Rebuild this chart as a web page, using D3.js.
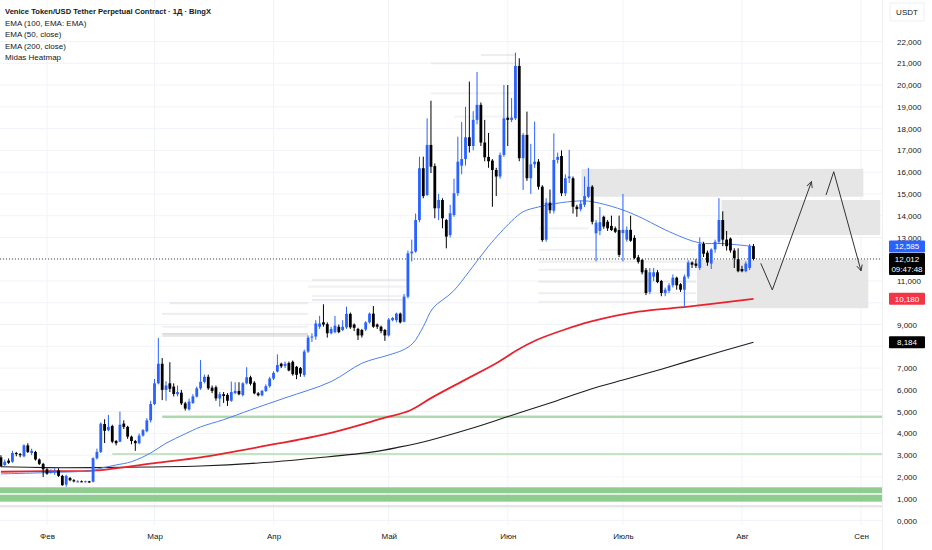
<!DOCTYPE html>
<html>
<head>
<meta charset="utf-8">
<script src="https://cdn.jsdelivr.net/npm/d3@7"></script>
<style>
  body { margin: 0; background: #fff; }
  svg { display: block; font-family: "Liberation Sans", Arial, sans-serif; }
</style>
</head>
<body>
<div id="chart"></div>
<script>
// daily candles starting at this date
const firstDay = "2025-01-20";

const opens = [
  2.9, 2.55, 2.75, 2.7, 3.1, 3.05, 2.95, 3.45, 3.1, 3.15,
  2.8, 2.6, 2.35, 2.2, 2.22, 2.3, 2.05, 1.65, 1.95, 1.85,
  1.78, 1.8, 1.78, 1.8, 1.78, 2.86, 3.15, 4.43, 4.15, 4.34,
  3.65, 3.62, 4.45, 4.3, 3.85, 3.65, 3.55, 3.9, 4.1, 4.6,
  5.35, 6.3, 7.2, 6.0, 6.3, 6.15, 5.8, 5.87, 5.38, 5.1,
  5.4, 5.69, 6.07, 6.37, 6.6, 6.1, 6.12, 5.6, 5.8, 5.77,
  5.5, 5.85, 5.95, 5.76, 6.3, 6.58, 6.33, 5.84, 5.75, 5.95,
  6.17, 6.52, 6.84, 7.2, 7.1, 7.23, 7.29, 7.06, 7.0, 6.68,
  7.76, 8.4, 8.45, 8.9, 9.1, 9.02, 8.6, 8.65, 8.9, 8.75,
  8.87, 9.49, 9.0, 8.8, 8.75, 8.77, 9.1, 9.5, 9.0, 8.9,
  8.75, 8.5, 9.2, 9.2, 9.5, 9.13, 10.28, 12.27, 12.35, 13.8,
  16.18, 14.95, 17.25, 16.28, 14.34, 14.72, 13.8, 13.11, 14.03, 15.03,
  16.3, 16.6, 17.6, 17.2, 18.4, 19.09, 17.36, 16.7, 16.53, 16.1,
  15.8, 16.79, 18.5, 18.4, 18.47, 20.88, 16.64, 17.71, 15.72, 16.36,
  16.48, 15.33, 12.9, 14.6, 14.23, 16.56, 16.74, 15.03, 15.72, 15.72,
  14.41, 14.3, 14.5, 14.87, 15.33, 13.19, 13.3, 13.95, 13.72, 13.53,
  13.42, 13.34, 13.2, 12.9, 13.35, 12.98, 12.09, 11.97, 11.5, 10.5,
  11.2, 11.4, 11.0, 10.45, 10.55, 10.8, 11.15, 10.85, 10.6, 11.2,
  11.85, 11.8, 11.6, 12.7, 12.3, 11.8, 12.45, 12.8, 13.8, 12.9,
  12.95, 12.4, 12.0, 11.55, 11.45, 11.6, 12.6
];
const highs = [
  3.0, 2.8, 2.85, 3.2, 3.15, 3.1, 3.5, 3.55, 3.3, 3.2,
  2.85, 2.65, 2.4, 2.35, 2.4, 2.4, 2.1, 2.1, 2.0, 1.9,
  1.85, 1.84, 1.83, 1.82, 2.9, 3.3, 4.5, 4.65, 4.85, 4.4,
  3.7, 5.0, 4.6, 4.35, 3.9, 3.7, 4.0, 4.2, 4.7, 5.5,
  6.5, 8.38, 7.46, 6.4, 7.27, 6.3, 6.2, 6.0, 5.45, 5.6,
  5.8, 6.15, 7.37, 6.7, 6.7, 6.2, 6.2, 5.9, 5.9, 5.85,
  6.38, 6.35, 6.35, 6.35, 7.04, 6.65, 6.4, 5.9, 6.0, 6.25,
  6.6, 6.85, 7.63, 7.25, 7.3, 7.3, 7.35, 7.1, 7.05, 7.85,
  8.5, 8.6, 9.2, 9.4, 9.93, 9.1, 8.9, 9.39, 9.0, 9.2,
  9.82, 9.55, 9.05, 8.85, 8.8, 9.15, 9.55, 9.85, 9.05, 8.95,
  8.8, 9.3, 9.35, 9.55, 9.55, 10.4, 12.4, 12.9, 14.1, 16.71,
  16.71, 18.47, 19.28, 16.4, 15.0, 14.8, 13.85, 14.5, 15.7, 17.63,
  18.3, 19.0, 20.16, 18.8, 20.6, 19.2, 18.4, 17.8, 16.6, 16.2,
  16.9, 20.0, 20.0, 19.4, 21.49, 21.23, 17.8, 18.78, 17.3, 18.32,
  16.6, 15.4, 14.8, 15.2, 17.78, 16.9, 17.0, 15.9, 17.02, 15.8,
  14.5, 14.7, 15.8, 16.2, 15.4, 13.8, 14.4, 14.0, 13.8, 14.0,
  13.5, 14.0, 15.0, 13.5, 14.0, 13.1, 12.2, 12.0, 11.6, 11.6,
  11.6, 11.5, 11.05, 10.7, 10.9, 11.3, 11.2, 10.9, 11.3, 11.95,
  11.9, 12.0, 13.0, 12.8, 12.4, 12.5, 12.9, 14.8, 14.2, 13.3,
  13.0, 12.5, 12.5, 11.7, 11.9, 12.7, 12.7
];
const lows = [
  2.45, 2.5, 2.6, 2.65, 2.95, 2.9, 2.9, 3.1, 3.0, 2.75,
  2.55, 2.0, 2.1, 2.15, 2.1, 2.0, 1.6, 1.55, 1.8, 1.75,
  1.75, 1.76, 1.75, 1.72, 1.75, 2.8, 3.1, 3.56, 4.1, 3.55,
  3.45, 3.6, 4.2, 3.75, 3.5, 3.2, 3.5, 3.85, 4.05, 4.5,
  5.3, 6.25, 5.53, 5.5, 5.9, 5.7, 5.7, 5.3, 5.05, 5.05,
  5.35, 5.65, 6.0, 6.3, 6.0, 5.85, 5.5, 5.23, 5.4, 5.26,
  5.45, 5.8, 5.75, 5.7, 6.25, 6.2, 5.8, 5.7, 5.7, 5.9,
  6.1, 6.45, 6.8, 7.0, 7.0, 6.85, 6.65, 6.49, 6.6, 6.6,
  7.7, 8.2, 8.3, 8.8, 8.9, 8.4, 8.55, 8.6, 8.6, 8.7,
  8.8, 8.8, 8.7, 8.29, 8.4, 8.7, 9.05, 8.85, 8.8, 8.6,
  8.25, 8.45, 9.15, 9.1, 9.05, 9.1, 10.2, 11.9, 12.3, 13.7,
  14.8, 14.9, 15.96, 13.88, 13.8, 13.42, 12.5, 13.0, 13.95, 14.9,
  15.9, 16.3, 16.9, 17.0, 18.2, 17.2, 16.5, 16.2, 14.41, 14.9,
  15.7, 16.7, 17.2, 18.3, 18.4, 16.5, 15.18, 15.6, 15.0, 16.2,
  15.2, 12.8, 12.8, 14.1, 14.1, 16.4, 14.9, 14.9, 15.5, 14.1,
  13.95, 14.2, 14.4, 14.8, 13.6, 11.9, 13.1, 13.4, 13.3, 13.3,
  13.2, 12.1, 11.9, 12.8, 12.8, 12.0, 11.8, 11.3, 10.35, 10.4,
  11.0, 10.9, 10.3, 10.3, 10.45, 10.7, 10.6, 10.5, 9.82, 11.1,
  11.6, 11.6, 11.5, 12.1, 11.7, 11.55, 12.3, 12.7, 12.6, 12.4,
  12.3, 11.6, 11.4, 11.4, 11.4, 11.5, 11.95
];
const closes = [
  2.5, 2.7, 2.65, 3.1, 3.05, 3.0, 3.45, 3.15, 3.2, 2.8,
  2.6, 2.35, 2.15, 2.25, 2.27, 2.05, 1.62, 2.05, 1.85, 1.8,
  1.8, 1.78, 1.8, 1.75, 2.86, 3.15, 4.45, 4.12, 4.3, 3.62,
  3.55, 4.4, 4.3, 3.85, 3.65, 3.55, 3.9, 4.15, 4.6, 5.35,
  6.3, 7.2, 6.0, 6.2, 6.05, 5.81, 5.9, 5.38, 5.14, 5.46,
  5.7, 6.07, 6.37, 6.6, 6.07, 5.95, 5.61, 5.8, 5.72, 5.5,
  5.9, 5.95, 5.8, 6.3, 6.58, 6.28, 5.84, 5.75, 5.95, 6.17,
  6.52, 6.78, 7.14, 7.08, 7.2, 6.89, 6.72, 6.69, 6.75, 7.76,
  8.4, 8.45, 9.05, 9.05, 9.0, 8.6, 8.8, 8.95, 8.65, 8.9,
  9.49, 8.87, 8.85, 8.5, 8.5, 9.1, 9.5, 8.9, 8.9, 8.7,
  8.5, 9.23, 9.3, 9.5, 9.1, 10.28, 12.27, 12.35, 13.8, 16.18,
  14.9, 17.25, 16.25, 14.34, 14.72, 13.88, 13.04, 14.11, 15.03, 16.48,
  16.6, 17.6, 17.2, 18.4, 19.09, 17.36, 16.68, 16.5, 16.1, 15.8,
  16.79, 18.47, 18.4, 18.5, 20.88, 16.64, 17.71, 15.72, 16.36, 16.48,
  15.33, 12.88, 14.6, 14.25, 16.56, 16.7, 15.03, 15.72, 15.8, 14.41,
  14.3, 14.55, 14.9, 15.33, 13.72, 13.68, 13.7, 13.5, 13.42, 13.34,
  13.26, 12.2, 13.35, 13.35, 12.85, 12.06, 11.88, 11.4, 10.45, 11.4,
  11.4, 10.95, 10.45, 10.6, 10.8, 11.15, 10.8, 10.6, 11.2, 11.85,
  11.75, 11.7, 12.7, 12.25, 11.85, 12.45, 12.8, 13.8, 12.9, 12.6,
  12.4, 12.05, 11.45, 11.45, 11.8, 12.6, 12.012
];

// EMA lines: [candle index, value]
const ema50 = [[0,2.14],[12,2.2],[24,2.3],[26,2.4],[30,2.55],[34,2.7],[39,3.1],[43,3.55],[48,3.98],
  [52,4.3],[58,4.63],[65,5.08],[74,5.63],[86,6.38],[94,7.22],[101,7.6],[104.7,7.83],[107.3,8.14],
  [110,8.9],[112.5,9.75],[117.7,10.51],[122,11.45],[127,12.6],[133,13.75],[136,14.18],[140,14.4],
  [146,14.6],[152,14.68],[156,14.57],[162,14.26],[166,13.97],[175,13.19],[182,12.75],[188,12.72],[196,12.585]];
const ema100 = [[0,2.24],[12,2.27],[24,2.29],[41,2.66],[52,2.9],[68,3.4],[86,4.03],[100,4.72],
  [106.5,5.05],[112,5.62],[120,6.38],[129,7.22],[134.5,7.83],[139.5,8.29],[146.5,8.75],[153.5,9.13],
  [166,9.59],[179,9.82],[196,10.18]];
const ema200 = [[0,2.47],[12,2.43],[24,2.43],[39,2.46],[52,2.5],[67,2.64],[82,2.87],[97,3.15],
  [104,3.38],[112,3.7],[122,4.2],[132.5,4.8],[143,5.4],[153.5,6.03],[162,6.45],[172,6.95],
  [184,7.58],[196,8.184]];

// heatmap zones: [from index, low, high]
const greenZones = [[-20,1.25,1.525],[-20,0.865,1.185],[42,4.71,4.82],[29,3.01,3.1]];
// faint heatmap levels: [value, from index, to index, opacity]
const heatLevels = [[9.98,44,80,0.3],[9.49,42,80,0.3],[8.9,42,80,0.25],[8.57,42,80,0.6],[8.48,42,80,0.45],
  [10.13,81,105,0.4],[10.31,81,105,0.25],[10.74,80,106,0.25],[11.05,81,106,0.35],
  [21.0,112,134,0.25],[21.38,125,134,0.3],[19.62,112,134,0.25],[18.55,118,134,0.2],
  [13.42,140,153,0.25],[12.43,140,181,0.3],[11.89,140,181,0.3],[11.51,140,181,0.25],
  [10.97,140,181,0.35],[10.44,140,181,0.3],[10.05,140,181,0.25]];
// drawn boxes: [from index, to index, low, high]
const boxes = [[151.2,224.6,14.87,16.15],[187.7,229,13.11,14.72],[181.3,225.9,9.75,11.97]];
// drawn arrows: lists of [index, value]
const arrows = [[[197.9,11.81],[200.9,10.59],[211.1,15.56]],[[214.9,14.95],[216.9,16.02],[224.0,11.47]]];

const monthDays = ["2025-02-01","2025-03-01","2025-04-01","2025-05-01","2025-06-01","2025-07-01","2025-08-01","2025-09-01"];
const monthLabels = ["Фев","Мар","Апр","Май","Июн","Июль","Авг","Сен"];
const priceTicks = [0,1,2,3,4,5,6,7,8,9,10,11,12,13,14,15,16,17,18,19,20,21,22];

const legendLines = ["Venice Token/USD Tether Perpetual Contract · 1Д · BingX","EMA (100, EMA: EMA)","EMA (50, close)","EMA (200, close)","Midas Heatmap"];

const width = 932, height = 550;
const plotW = 882, plotH = 525;

const svg = d3.select("#chart").append("svg").attr("width", width).attr("height", height);

const x = d3.scaleUtc()
  .domain([new Date("2025-02-01T00:00:00Z"), new Date("2025-09-01T00:00:00Z")])
  .range([47, 861]);
const y = d3.scaleLinear().domain([0, 22]).range([520.5, 41.5]);

const t0 = new Date(firstDay + "T00:00:00Z").getTime();
const xAt = (i) => x(new Date(t0 + i * 864e5));

const fmt = (v) => d3.format(".3f")(v).replace(".", ",");

svg.append("defs").append("clipPath").attr("id", "plot")
  .append("rect").attr("width", plotW).attr("height", plotH);

// grid
const grid = svg.append("g");
grid.selectAll(".hg").data(priceTicks).enter().append("line")
  .attr("x1", 0).attr("x2", plotW)
  .attr("y1", d => y(d)).attr("y2", d => y(d))
  .attr("stroke", "#f0f3fa").attr("stroke-width", 1);
grid.selectAll(".vg").data(monthDays).enter().append("line")
  .attr("x1", d => x(new Date(d))).attr("x2", d => x(new Date(d)))
  .attr("y1", 0).attr("y2", plotH)
  .attr("stroke", "#f0f3fa").attr("stroke-width", 1);

const g = svg.append("g").attr("clip-path", "url(#plot)");

// heatmap
g.selectAll(".hl").data(heatLevels).enter().append("rect")
  .attr("x", d => xAt(d[1])).attr("width", d => xAt(d[2]) - xAt(d[1]))
  .attr("y", d => y(d[0]) - 1).attr("height", 2)
  .attr("fill", "#c8c8c8").attr("opacity", d => d[3]);

g.selectAll(".gz").data(greenZones).enter().append("rect")
  .attr("x", d => xAt(d[0])).attr("width", d => plotW - xAt(d[0]))
  .attr("y", d => y(d[2])).attr("height", d => y(d[1]) - y(d[2]))
  .attr("fill", (d, i) => i === 3 ? "#c4e3c4" : "#8fcc8f")
  .attr("opacity", (d, i) => i === 2 ? 0.75 : 1);

g.append("rect").attr("x", 0).attr("width", plotW)
  .attr("y", y(0.7)).attr("height", 2).attr("fill", "#e3e3e3");

g.selectAll(".box").data(boxes).enter().append("rect")
  .attr("x", d => xAt(d[0])).attr("width", d => xAt(d[1]) - xAt(d[0]))
  .attr("y", d => y(d[3])).attr("height", d => y(d[2]) - y(d[3]))
  .attr("fill", "#e6e6e6");

// EMAs
const line = d3.line().x(d => xAt(d[0])).y(d => y(d[1])).curve(d3.curveCatmullRom.alpha(0.5));
g.append("path").datum(ema200).attr("d", line)
  .attr("fill", "none").attr("stroke", "#1e1e1e").attr("stroke-width", 1.1);
g.append("path").datum(ema100).attr("d", line)
  .attr("fill", "none").attr("stroke", "#e8232d").attr("stroke-width", 1.8);
g.append("path").datum(ema50).attr("d", line)
  .attr("fill", "none").attr("stroke", "#4d7ff0").attr("stroke-width", 1);

// last price line
const last = closes[closes.length - 1];
g.append("line").attr("x1", 0).attr("x2", plotW)
  .attr("y1", y(last)).attr("y2", y(last))
  .attr("stroke", "#444").attr("stroke-width", 1).attr("stroke-dasharray", "1,2");

// candles
const candles = opens.map((o, i) => ({ i, o, h: highs[i], l: lows[i], c: closes[i] }));
const col = d => d.c >= d.o ? "#2962ff" : "#000000";
const cg = g.append("g");
cg.selectAll(".wick").data(candles).enter().append("line")
  .attr("x1", d => xAt(d.i)).attr("x2", d => xAt(d.i))
  .attr("y1", d => y(d.h)).attr("y2", d => y(d.l))
  .attr("stroke", col).attr("stroke-width", 1);
cg.selectAll(".body").data(candles).enter().append("rect")
  .attr("x", d => xAt(d.i) - 1.4).attr("width", 2.8)
  .attr("y", d => y(Math.max(d.o, d.c)))
  .attr("height", d => Math.max(1, Math.abs(y(d.o) - y(d.c))))
  .attr("fill", col);

// arrows
const defs = svg.select("defs");
defs.append("marker").attr("id", "arr").attr("viewBox", "0 0 10 10")
  .attr("refX", 9).attr("refY", 5).attr("markerWidth", 7).attr("markerHeight", 7)
  .attr("orient", "auto")
  .append("path").attr("d", "M1,1L9,5L1,9").attr("fill", "none").attr("stroke", "#333").attr("stroke-width", 1.3);
const aline = d3.line().x(d => xAt(d[0])).y(d => y(d[1]));
g.selectAll(".arrow").data(arrows).enter().append("path")
  .attr("d", aline).attr("fill", "none").attr("stroke", "#333").attr("stroke-width", 1)
  .attr("marker-end", "url(#arr)");

// price tags on the scale
const tags = [
  { v: ema50[ema50.length - 1][1], fill: "#2962ff" },
  { v: last, fill: "#000", sub: "09:47:48" },
  { v: ema100[ema100.length - 1][1], fill: "#f23645" },
  { v: ema200[ema200.length - 1][1], fill: "#000" }
];

// right axis
svg.append("line").attr("x1", plotW + 0.5).attr("x2", plotW + 0.5).attr("y1", 0).attr("y2", height)
  .attr("stroke", "#f0f0f0");
const yAxis = svg.append("g").attr("transform", `translate(${plotW},0)`)
  .call(d3.axisRight(y).tickValues(priceTicks).tickSize(0).tickPadding(15).tickFormat(fmt));
yAxis.select(".domain").remove();
yAxis.selectAll(".tick").filter(d => tags.some(t => Math.abs(y(d) - y(t.v)) < 8)).remove();
yAxis.selectAll("text").attr("font-size", 8).attr("fill", "#131722")
  .attr("font-family", "'Liberation Sans', Arial, sans-serif");

svg.append("rect").attr("x", plotW + 8).attr("y", 3).attr("width", 34).attr("height", 18)
  .attr("fill", "#fff").attr("stroke", "#eceff4");
svg.append("text").attr("x", 907).attr("y", 15).attr("text-anchor", "middle")
  .attr("font-size", 8).attr("fill", "#131722").text("USDT");

tags.forEach(t => {
  const h = t.sub ? 22 : 12;
  const top = y(t.v) - 6;
  svg.append("rect").attr("x", 889).attr("y", top).attr("width", 36).attr("height", h)
    .attr("fill", t.fill).attr("rx", 1);
  svg.append("text").attr("x", 907).attr("y", top + 9).attr("text-anchor", "middle")
    .attr("font-size", 8).attr("fill", "#fff").text(fmt(t.v));
  if (t.sub) {
    svg.append("text").attr("x", 907).attr("y", top + 19).attr("text-anchor", "middle")
      .attr("font-size", 8).attr("fill", "#fff").text(t.sub);
  }
});

// bottom axis
const xAxis = svg.append("g").attr("transform", `translate(0,${plotH})`)
  .call(d3.axisBottom(x).tickValues(monthDays.map(d => new Date(d + "T00:00:00Z")))
    .tickSize(0).tickPadding(8).tickFormat((d, i) => monthLabels[i]));
xAxis.select(".domain").remove();
xAxis.selectAll("text").attr("font-size", 8).attr("fill", "#131722")
  .attr("font-family", "'Liberation Sans', Arial, sans-serif");

// legend
const legend = svg.append("g");
legend.selectAll("text").data(legendLines).enter().append("text")
  .attr("x", 5).attr("y", (d, i) => 14 + i * 11.5)
  .attr("font-size", (d, i) => i === 0 ? 7.6 : 8)
  .attr("font-weight", (d, i) => i === 0 ? "bold" : "normal")
  .attr("fill", "#131722").text(d => d);
</script>
</body>
</html>
